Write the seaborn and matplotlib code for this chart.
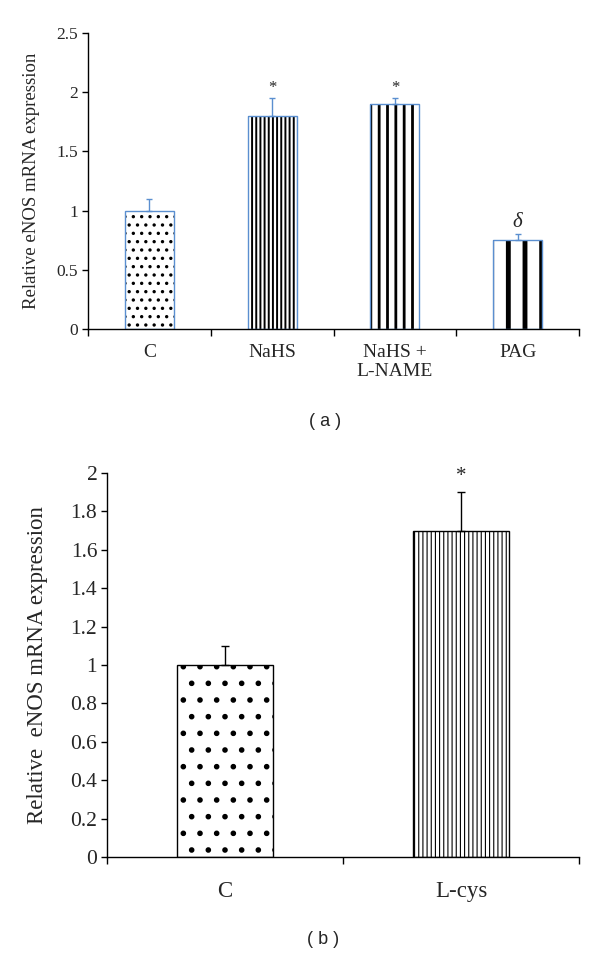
import matplotlib
matplotlib.use("Agg")
import matplotlib.pyplot as plt
import seaborn as sns
import pandas as pd
import numpy as np

# ---- data ----
cats_a = ["C", "NaHS", "NaHS +\nL-NAME", "PAG"]
vals_a = [1.0, 1.8, 1.9, 0.75]
errs_a = [0.1, 0.15, 0.05, 0.05]
marks_a = ["", "*", "*", "δ"]
yticks_a = [0, 0.5, 1, 1.5, 2, 2.5]
yticklabels_a = ["0", "0.5", "1", "1.5", "2", "2.5"]

cats_b = ["C", "L-cys"]
vals_b = [1.0, 1.7]
errs_b = [0.1, 0.2]
marks_b = ["", "*"]
yticks_b = [0, 0.2, 0.4, 0.6, 0.8, 1, 1.2, 1.4, 1.6, 1.8, 2]
yticklabels_b = ["0", "0.2", "0.4", "0.6", "0.8", "1", "1.2", "1.4", "1.6", "1.8", "2"]

ylabel_a = "Relative eNOS mRNA expression"
ylabel_b = "Relative  eNOS mRNA expression"

sns.set_theme(style="ticks")
plt.rcParams["font.family"] = ["Liberation Serif", "DejaVu Serif"]
plt.rcParams["hatch.color"] = "black"

fig = plt.figure(figsize=(6, 9.56), dpi=100)
ax1 = fig.add_axes([0.1467, 0.6559, 0.8183, 0.3096])
ax2 = fig.add_axes([0.1783, 0.1036, 0.7867, 0.4016])

blue = "#5b8fd0"

def set_hlw(p, lw):
    try:
        p.set_hatch_linewidth(lw)
    except Exception:
        pass

def panel(ax, cats, vals, errs, marks, hatches, hlws, edge, errcolor, capsize,
          yticks, yticklabels, ylabel, tfs, xfs, lfs, mfs, mark_off, width, xpad):
    df = pd.DataFrame({"cat": cats, "val": vals})
    sns.barplot(data=df, x="cat", y="val", color="white", width=width,
                errorbar=None, edgecolor="black", linewidth=0, ax=ax)
    n = len(cats)
    bars = list(ax.patches)[:n]
    for p, h, lw in zip(bars, hatches, hlws):
        p.set_hatch(h)
        p.set_edgecolor("black")
        set_hlw(p, lw)
    sns.barplot(data=df, x="cat", y="val", fill=False, width=width,
                errorbar=None, color=edge, linewidth=1.0, ax=ax)
    for p in list(ax.patches)[n:]:
        p.set_edgecolor(edge)
        p.set_linewidth(1.0)
    xs = [p.get_x() + p.get_width() / 2 for p in bars]
    ax.errorbar(xs, vals, yerr=[np.zeros(n), errs], fmt="none",
                ecolor=errcolor, elinewidth=1.0, capsize=capsize, capthick=1.0)
    for x, v, e, m in zip(xs, vals, errs, marks):
        if m:
            style = "italic" if m == "δ" else "normal"
            ax.text(x, v + e + mark_off, m, ha="center", va="bottom",
                    fontsize=mfs + 3 if m == "δ" else mfs, fontstyle=style)
    ax.set_xlim(-0.5, n - 0.5)
    ax.set_ylim(0, yticks[-1])
    ax.set_yticks(yticks)
    ax.set_yticklabels(yticklabels, fontsize=tfs)
    ax.set_xticks(np.arange(n))
    ax.set_xticklabels(cats, fontsize=xfs, linespacing=1.2)
    ax.tick_params(axis="x", length=0, pad=xpad)
    ax.set_xticks(np.arange(n + 1) - 0.5, minor=True)
    ax.tick_params(axis="x", which="minor", length=5, width=1.0, color="black")
    ax.tick_params(axis="y", length=4, width=1.0, color="black", pad=3)
    ax.set_xlabel("")
    ax.set_ylabel(ylabel, fontsize=lfs)
    for s in ["top", "right"]:
        ax.spines[s].set_visible(False)
    for s in ["left", "bottom"]:
        ax.spines[s].set_color("black")
        ax.spines[s].set_linewidth(1.0)

panel(ax1, cats_a, vals_a, errs_a, marks_a,
      ["..", "||||", "||", "|"], [1.2, 1.4, 2.0, 3.5],
      blue, blue, 2.5, yticks_a, yticklabels_a, ylabel_a,
      tfs=12.5, xfs=14, lfs=13.5, mfs=12, mark_off=0.02, width=0.4, xpad=10.5)
panel(ax2, cats_b, vals_b, errs_b, marks_b,
      [".", "||||"], [1.6, 0.8],
      "black", "black", 3.0, yticks_b, yticklabels_b, ylabel_b,
      tfs=15.5, xfs=16.5, lfs=16.5, mfs=15, mark_off=0.03, width=0.41, xpad=17)
ax1.yaxis.labelpad = 12
ax2.yaxis.labelpad = 16

fig.text(0.542, 1 - 422 / 956, "( a )", ha="center", va="center",
         fontsize=13, family=["Liberation Sans", "DejaVu Sans"])
fig.text(0.538, 1 - 940 / 956, "( b )", ha="center", va="center",
         fontsize=13, family=["Liberation Sans", "DejaVu Sans"])

fig.savefig("out.png", dpi=100)
